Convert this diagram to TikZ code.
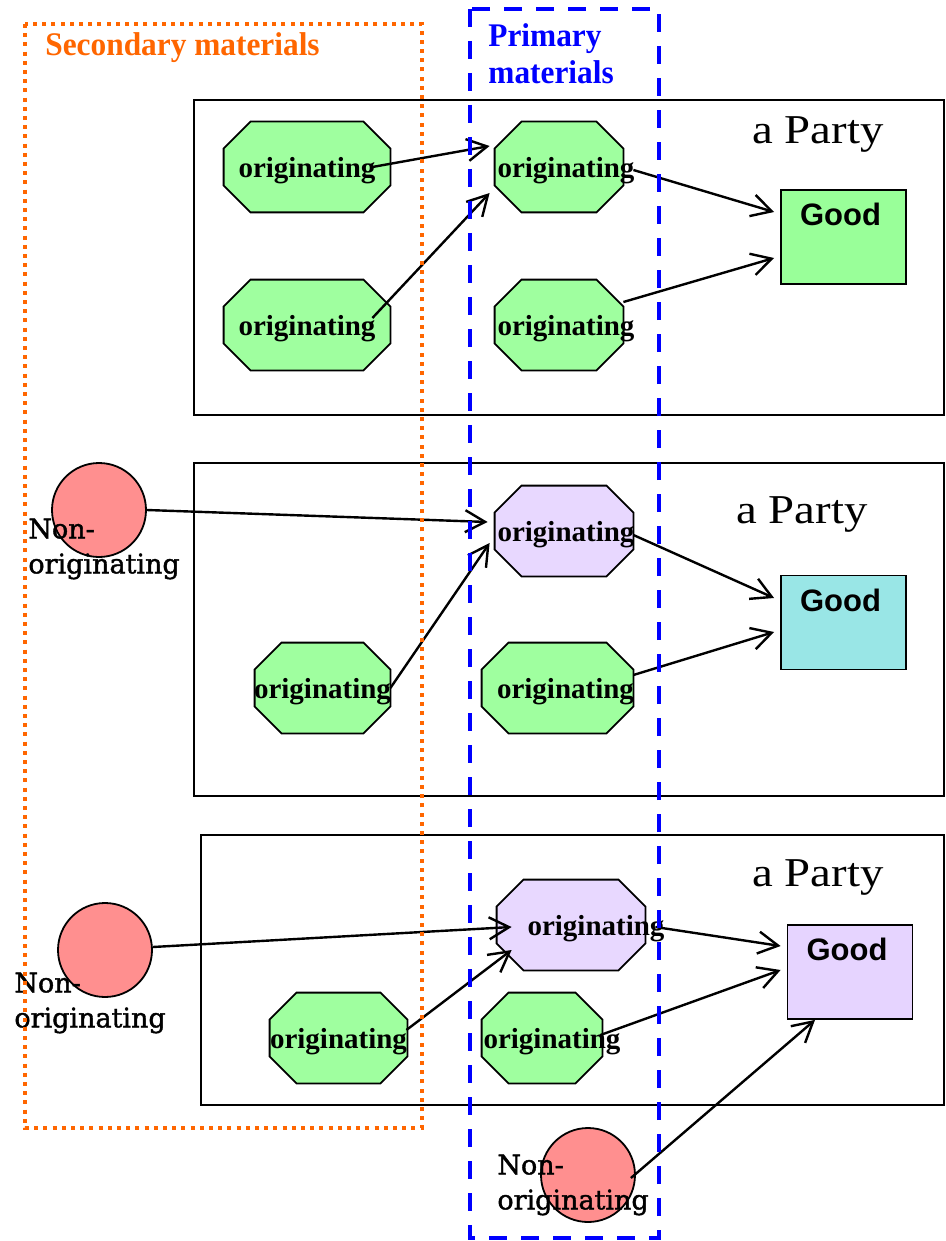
\documentclass[tikz,border=0pt]{standalone}
\usepackage{fontspec}
\setmainfont{Liberation Serif}
\setsansfont{Liberation Sans}
\newfontfamily\nonfont[FakeBold=1.5]{DejaVu Serif}
\newfontfamily\partyfont[FakeStretch=1.14]{Liberation Serif}
\newfontfamily\framefont[FakeStretch=0.95]{Liberation Serif}
\usetikzlibrary{arrows.meta}

\definecolor{origgreen}{RGB}{159,255,159}
\definecolor{origpurple}{RGB}{232,216,255}
\definecolor{goodgreen}{RGB}{153,255,153}
\definecolor{goodcyan}{RGB}{153,230,230}
\definecolor{goodpurple}{RGB}{230,212,255}
\definecolor{nonpink}{RGB}{255,143,143}
\definecolor{secorange}{RGB}{255,102,0}
\definecolor{priblue}{RGB}{0,0,255}

\newcommand{\origtxt}[1]{\makebox[0pt]{\hspace*{#1}originating}}

\tikzset{
  origline/.style={draw, line width=0.9pt},
  orig/.style n args={3}{minimum width=#1, minimum height=45pt, inner sep=0pt,
    append after command={\pgfextra{
      \draw[origline, fill=#2] ([xshift=13.5pt]\tikzlastnode.north west)
        -- ([xshift=-13.5pt]\tikzlastnode.north east) -- ([yshift=-13.5pt]\tikzlastnode.north east)
        -- ([yshift=13.5pt]\tikzlastnode.south east) -- ([xshift=-13.5pt]\tikzlastnode.south east)
        -- ([xshift=13.5pt]\tikzlastnode.south west) -- ([yshift=13.5pt]\tikzlastnode.south west)
        -- ([yshift=-13.5pt]\tikzlastnode.north west) -- cycle;}},
    label={[inner sep=0pt, yshift=-2pt, font=\bfseries\fontsize{14.5}{17}\selectfont]center:\origtxt{#3}}},
  nonc/.style={circle, draw, line width=0.9pt, fill=nonpink, minimum size=47pt, inner sep=0pt},
  nonlab/.style={font=\nonfont\fontsize{13.5}{17.5}\selectfont, align=left, inner sep=0pt, anchor=west},
  goodbox/.style={draw, line width=0.9pt, minimum width=62.5pt, minimum height=47pt, inner sep=0pt,
    label={[font=\sffamily\bfseries\fontsize{15.5}{18}\selectfont, anchor=north, inner sep=0pt, yshift=-7pt, xshift=-1.5pt]north:Good}},
  partybox/.style={draw, line width=0.9pt},
  party/.style={font=\partyfont\fontsize{20.5}{24}\selectfont, inner sep=0pt},
  arr/.style={-{Straight Barb[length=10pt,width=11pt]}, line width=1.2pt},
  secframe/.style={draw=secorange, line width=2pt, dash pattern=on 2pt off 2.6pt},
  priframe/.style={draw=priblue, line width=2pt, dash pattern=on 9pt off 7pt}
}

\begin{document}
\begin{tikzpicture}[x=0.5pt, y=-0.5pt]
\useasboundingbox (0,0) rectangle (946,1241);
%\draw[help lines, color=gray!30, dashed] (0,0) grid[step=100] (946,1241);

% three parties
\draw[partybox] (194,100) rectangle (944,415);
\draw[partybox] (194,463) rectangle (944,796);
\draw[partybox] (201,835) rectangle (944,1105);
\node[party] (party1) at (818,135) {a Party};
\node[party] (party2) at (802,514) {a Party};
\node[party] (party3) at (818,877) {a Party};

% first party
\node[orig={83pt}{origgreen}{0pt}] (o11) at (307,167) {};
\node[orig={83pt}{origgreen}{0pt}] (o12) at (307,325) {};
\node[orig={64pt}{origgreen}{7pt}] (o13) at (559,167) {};
\node[orig={64pt}{origgreen}{7pt}] (o14) at (559,325) {};
\node[goodbox, fill=goodgreen] (good1) at (843.5,237) {};

\draw[arr] ([shift={(-18,0)}]o11.east) -- ([shift={(-5,-21)}]o13.west);
\draw[arr] ([shift={(-18,-7)}]o12.east) -- ([shift={(-5,26)}]o13.west);
\draw[arr] ([shift={(10,3)}]o13.east) -- ([shift={(-6,-25)}]good1.west);
\draw[arr] ([shift={(0,-23)}]o14.east) -- ([shift={(-6,21)}]good1.west);

% second party
\node[nonc] (c1) at (99,510) {};
\node[nonlab] (nolab1) at (28,549) {Non-\\originating};
\node[orig={69pt}{origpurple}{2pt}] (o21) at (564,531) {};
\node[orig={67.5pt}{origgreen}{0pt}] (o22) at (322.5,688) {};
\node[orig={75.5pt}{origgreen}{8pt}] (o23) at (557.5,688) {};
\node[goodbox, fill=goodcyan] (good2) at (843.5,622.5) {};

\draw[arr] (c1.east) -- ([shift={(-7,-9)}]o21.west);
\draw[arr] (o22.east) -- ([shift={(-5,12)}]o21.west);
\draw[arr] ([shift={(0,4)}]o21.east) -- ([shift={(-6,-24.5)}]good2.west);
\draw[arr] ([shift={(0,-13)}]o23.east) -- ([shift={(-6,9.5)}]good2.west);

% third party
\node[nonc] (c2) at (105,950) {};
\node[nonlab] (nolab2) at (14,1003) {Non-\\originating};
\node[orig={74pt}{origpurple}{25pt}] (o31) at (571,925) {};
\node[orig={68.5pt}{origgreen}{0pt}] (o32) at (338.5,1038) {};
\node[orig={60pt}{origgreen}{10pt}] (o33) at (542,1038) {};
\node[goodbox, fill=goodpurple] (good3) at (850,972) {};
\node[nonc] (c3) at (588,1175) {};
\node[nonlab] (nolab3) at (497,1185) {Non-\\originating};

\draw[arr] ([shift={(0,-3)}]c2.east) -- ([shift={(15,2)}]o31.west);
\draw[arr] ([shift={(-1,-8)}]o32.east) -- ([shift={(15,25)}]o31.west);
\draw[arr] ([shift={(10,2)}]o31.east) -- ([shift={(-6,-26)}]good3.west);
\draw[arr] ([shift={(-2,-3)}]o33.east) -- ([shift={(-6,-2)}]good3.west);
\draw[arr] ([shift={(-5,3)}]c3.east) -- ([shift={(-35,0)}]good3.south);

% material frames
\draw[secframe] (25,24) rectangle (422,1128);
\draw[priframe] (470,9) rectangle (659,1238);
\node[anchor=west, inner sep=0pt, text=secorange, font=\framefont\bfseries\fontsize{16.5}{20}\selectfont] (seclab) at (45,48) {Secondary materials};
\node[anchor=west, inner sep=0pt, align=left, text=priblue, font=\framefont\bfseries\fontsize{16.5}{18.5}\selectfont] (prilab) at (488,54) {Primary\\materials};
\end{tikzpicture}
\end{document}
